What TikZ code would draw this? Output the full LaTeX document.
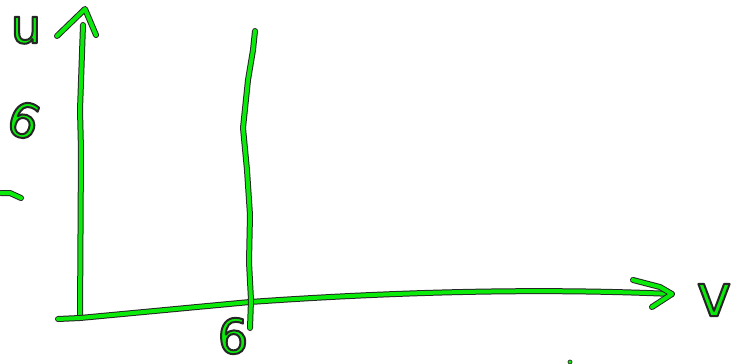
\documentclass[tikz,border=0pt]{standalone}
\usepackage{fontspec}
\setmainfont{DejaVu Sans}
\usepackage{tikz}
\usetikzlibrary{calc}
\definecolor{penGreen}{RGB}{10,235,10}
\newcommand{\penText}[1]{\textcolor{penGreen}{\special{pdf:literal direct 0.15 0.15 0.15 RG 1.5 w 1 j 2 Tr}#1\special{pdf:literal direct 0 Tr}}}

\begin{document}
\begin{tikzpicture}[x=0.75pt,y=-0.75pt,
  pen/.style={draw=black!85,double=penGreen,double distance=3pt,line width=0.75pt,
              line cap=round,line join=round},
  handlabel/.style={inner sep=0pt,font=\fontsize{36}{36}\selectfont},
]
\useasboundingbox (0,0) rectangle (743,364);

% axes
\coordinate (origin) at (80,318);
\coordinate (utop) at (83,25);
\coordinate (vleft) at (58,319);
\coordinate (vtip) at (672,294);
\draw[pen] (origin) -- (81,150) -- (80,110) -- (utop);
\draw[pen] (vleft) -- (origin) -- (250,302) .. controls (420,290) and (560,289) .. (vtip);

% arrow heads
\draw[pen] (57,36) -- (85,9) -- (96,35);
\draw[pen] (633,280) -- (660,287) -- (vtip) -- (652,307);

% line at 6
\coordinate (linetop) at (255,31);
\coordinate (linebot) at (250,328);
\draw[pen] (linetop) -- (253,50) -- (248,80) -- (243,128) -- (247,170)
  -- (250,215) -- (249,262) -- (251,300) -- (linebot);

% labels
\node[handlabel] (ulabel) at (26,30) {\penText{u}};
\node[handlabel,font=\fontsize{44}{44}\selectfont] (vlabel) at (714,300) {\penText{v}};
\node[handlabel] (sixv) at (233,336) {\penText{6}};
\node[handlabel,rotate=-20] (sixu) at (24,120) {\penText{6}};
\draw[pen] (1,193) -- (10,193) -- (21,198);
\fill[penGreen,draw=black!85,line width=0.5pt] (570,362) circle (2);
\end{tikzpicture}
\end{document}
